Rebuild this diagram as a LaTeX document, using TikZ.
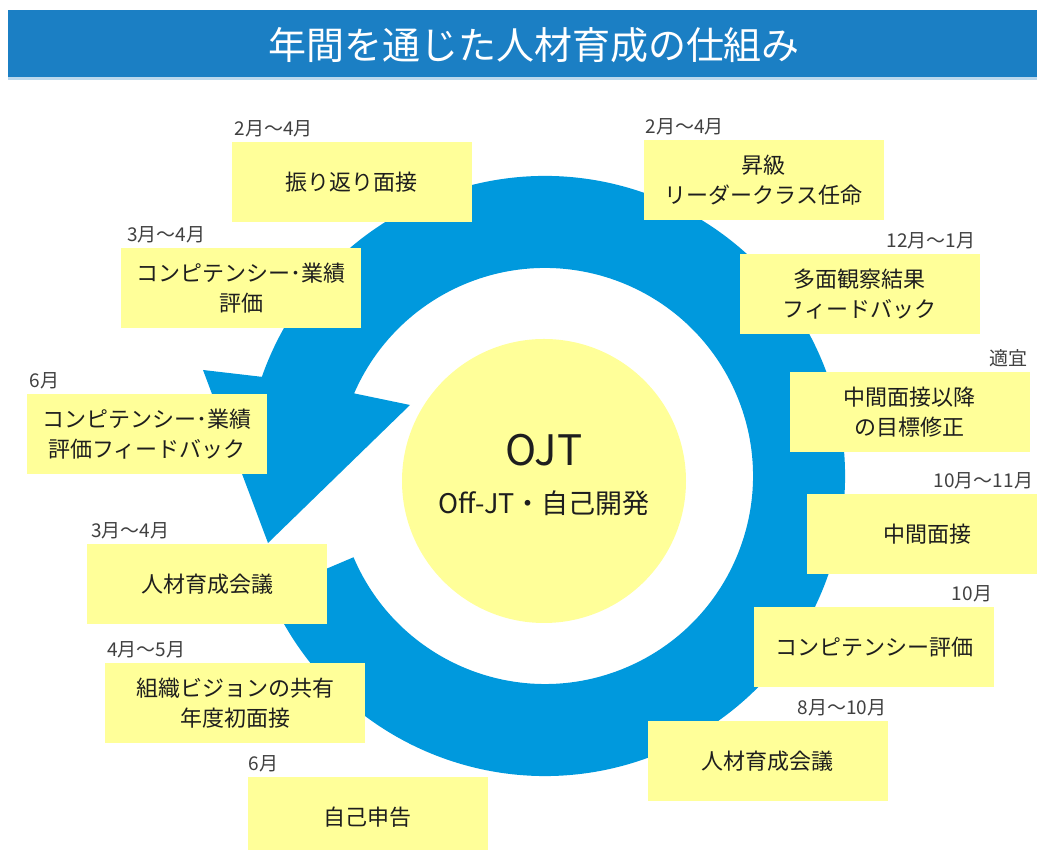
\documentclass[tikz,border=0pt]{standalone}
\usepackage{fontspec}
\setmainfont{Noto Sans CJK JP}
\usetikzlibrary{positioning, calc}
\definecolor{titleblue}{RGB}{27,127,196}
\definecolor{ringblue}{RGB}{0,153,221}
\definecolor{padyellow}{RGB}{255,255,153}
\definecolor{inktext}{RGB}{30,30,30}

\begin{document}
\begin{tikzpicture}[x=1pt, y=1pt,
    pad/.style={fill=padyellow, minimum width=240, minimum height=80, inner sep=0pt,
      align=center, text=inktext, font=\fontsize{22}{30}\selectfont},
    when/.style={inner sep=1pt, text=inktext!85, font=\fontsize{19}{19}\selectfont}]
  \useasboundingbox (0,0) rectangle (1037,850);
  \fill[titleblue] (8,773) rectangle (1040,840);
  \fill[titleblue!30] (8,770) rectangle (1040,773);
  \node[text=white, font=\fontsize{38}{38}\selectfont] (title) at (534,805) {年間を通じた人材育成の仕組み};

  \coordinate (c) at (545,374);
  \fill[ringblue] (c) ++(160.7:300) arc[start angle=160.7, end angle=-157, radius=300]
    -- ($(c)+(-157:208)$) arc[start angle=-157, end angle=156.6, radius=208]
    -- ($(c)+(-135,71)$) -- ($(c)+(-277,-67)$) -- ($(c)+(-342,106)$) -- cycle;

  \node[circle, fill=padyellow, minimum size=284, inner sep=0pt] (hub) at (544,369) {};
  \node[font=\fontsize{42}{42}\selectfont, text=inktext] (ojt) at ([yshift=31]hub.center) {OJT};
  \node[font=\fontsize{27}{27}\selectfont, text=inktext] (offjt) at ([yshift=-22]hub.center) {Off-JT・自己開発};

  \node[pad] (review) at (351.5,668) {振り返り面接};
  \node[pad] (promote) at (763.5,670) {昇級\\リーダークラス任命};
  \node[pad] (multi) at (859.5,556) {多面観察結果\\フィードバック};
  \node[pad] (compA) at (241,562) {コンピテンシー･業績\\評価};
  \node[pad] (goalfix) at (909.5,438) {中間面接以降\\の目標修正};
  \node[pad] (compfb) at (147,416) {コンピテンシー･業績\\評価フィードバック};
  \node[pad] (midterm) at (927,315.5) {中間面接};
  \node[pad] (hrmeetA) at (207,265.5) {人材育成会議};
  \node[pad] (compB) at (874,203) {コンピテンシー評価};
  \node[pad, minimum width=260] (vision) at (235,147) {組織ビジョンの共有\\年度初面接};
  \node[pad] (hrmeetB) at (767.5,89) {人材育成会議};
  \node[pad] (selfrep) at (367.5,33) {自己申告};

  \node[when, above right=4pt and 2pt of review.north west] (whenreview) {2月～4月};
  \node[when, above right=4pt and 1pt of promote.north west] (whenpromote) {2月～4月};
  \node[when, above left=4pt and 3pt of multi.north east] (whenmulti) {12月～1月};
  \node[when, above right=4pt and 5pt of compA.north west] (whencompA) {3月～4月};
  \node[when, above left=4pt and 1pt of goalfix.north east] (whengoalfix) {適宜};
  \node[when, above right=4pt and 2pt of compfb.north west] (whencompfb) {6月};
  \node[when, above left=4pt and 13pt of midterm.north east] (whenmidterm) {10月～11月};
  \node[when, above right=4pt and 3pt of hrmeetA.north west] (whenhrmeetA) {3月～4月};
  \node[when, above left=4pt and 1pt of compB.north east] (whencompB) {10月};
  \node[when, above right=4pt and 1pt of vision.north west] (whenvision) {4月～5月};
  \node[when, above left=4pt and 0pt of hrmeetB.north east] (whenhrmeetB) {8月～10月};
  \node[when, above right=4pt and 0pt of selfrep.north west] (whenselfrep) {6月};
\end{tikzpicture}
\end{document}
